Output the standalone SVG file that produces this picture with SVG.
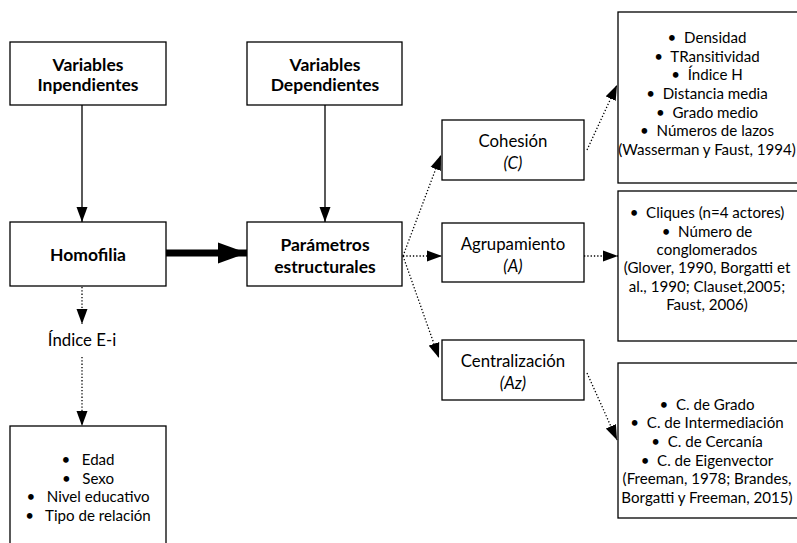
<svg xmlns="http://www.w3.org/2000/svg" width="797" height="543" viewBox="0 0 797 543">
<style>
.box{fill:#fff;stroke:#000;stroke-width:1.3}
text{font-family:Lato,"Liberation Sans",sans-serif;fill:#000;text-anchor:middle}
.h{font-weight:bold;font-size:17.5px}
.t{font-size:16.8px}
.l{font-size:15.1px}
.it{font-style:italic}
.solid{stroke:#000;stroke-width:1.3;fill:none}
.dot{stroke:#000;stroke-width:1.3;fill:none;stroke-dasharray:1.3 2}
</style>
<defs>
<marker id="ah" markerUnits="userSpaceOnUse" markerWidth="16" markerHeight="12" refX="15" refY="6" orient="auto" viewBox="0 0 16 12">
<path d="M0,0.5 L15,6 L0,11.5 z" fill="#000"/>
</marker>
<marker id="ahb" markerUnits="userSpaceOnUse" markerWidth="30" markerHeight="22" refX="29" refY="11" orient="auto" viewBox="0 0 30 22">
<path d="M0,0.5 L29,11 L0,21.5 z" fill="#000"/>
</marker>
</defs>
<g id="connectors">
<line class="solid" x1="82" y1="105" x2="82" y2="222" marker-end="url(#ah)"/>
<line class="solid" x1="325" y1="105" x2="325" y2="222" marker-end="url(#ah)"/>
<line x1="166" y1="253" x2="247" y2="253" stroke="#000" stroke-width="7" marker-end="url(#ahb)"/>
<line class="dot" x1="82" y1="287" x2="82" y2="324" marker-end="url(#ah)"/>
<line class="dot" x1="82" y1="357" x2="82" y2="426" marker-end="url(#ah)"/>
<line class="dot" x1="403" y1="256" x2="441" y2="155" marker-end="url(#ah)"/>
<line class="dot" x1="403" y1="256" x2="442" y2="256" marker-end="url(#ah)"/>
<line class="dot" x1="403" y1="256" x2="439" y2="358" marker-end="url(#ah)"/>
<line class="dot" x1="587" y1="150" x2="617" y2="85" marker-end="url(#ah)"/>
<line class="dot" x1="584" y1="256" x2="618" y2="256" marker-end="url(#ah)"/>
<line class="dot" x1="587" y1="373" x2="617" y2="440" marker-end="url(#ah)"/>
</g>
<g id="vi">
<rect class="box" x="10" y="42" width="156" height="63"/>
<text class="h" x="88" y="71">Variables</text>
<text class="h" x="88" y="91">Inpendientes</text>
</g>
<g id="vd">
<rect class="box" x="247" y="42" width="155" height="63"/>
<text class="h" x="325" y="71">Variables</text>
<text class="h" x="325" y="91">Dependientes</text>
</g>
<g id="homofilia">
<rect class="box" x="10" y="222" width="156" height="64"/>
<text class="h" x="88" y="261">Homofilia</text>
</g>
<g id="parametros">
<rect class="box" x="247" y="222" width="155" height="64"/>
<text class="h" x="325" y="251">Parámetros</text>
<text class="h" x="325" y="273">estructurales</text>
</g>
<g id="indice">
<text class="t" x="82" y="346">Índice E-i</text>
</g>
<g id="atributos">
<rect class="box" x="10" y="426" width="156" height="130"/>
<text class="l" x="88" y="465">•&#160;&#160; Edad</text>
<text class="l" x="88" y="484">•&#160;&#160; Sexo</text>
<text class="l" x="88" y="502">•&#160;&#160; Nivel educativo</text>
<text class="l" x="88" y="521">•&#160;&#160; Tipo de relación</text>
</g>
<g id="cohesion">
<rect class="box" x="442" y="120" width="142" height="60"/>
<text class="t" x="513" y="147">Cohesión</text>
<text class="t it" x="513" y="169">(C)</text>
</g>
<g id="agrupamiento">
<rect class="box" x="442" y="223" width="142" height="59"/>
<text class="t" x="513" y="250">Agrupamiento</text>
<text class="t it" x="513" y="272">(A)</text>
</g>
<g id="centralizacion">
<rect class="box" x="442" y="340" width="142" height="60"/>
<text class="t" x="513" y="367">Centralización</text>
<text class="t it" x="513" y="389">(Az)</text>
</g>
<g id="cohesion-medidas">
<rect class="box" x="618" y="12" width="200" height="171"/>
<text class="l" x="707" y="43">•&#160; Densidad</text>
<text class="l" x="707" y="62">•&#160; TRansitividad</text>
<text class="l" x="707" y="80">•&#160; Índice H</text>
<text class="l" x="707" y="99">•&#160; Distancia media</text>
<text class="l" x="707" y="118">•&#160; Grado medio</text>
<text class="l" x="707" y="136">•&#160; Números de lazos</text>
<text class="l" x="707" y="155">(Wasserman y Faust, 1994)</text>
</g>
<g id="agrupamiento-medidas">
<rect class="box" x="618" y="191" width="200" height="150"/>
<text class="l" x="707" y="218">•&#160; Cliques (n=4 actores)</text>
<text class="l" x="707" y="237">•&#160; Número de</text>
<text class="l" x="707" y="255">conglomerados</text>
<text class="l" x="707" y="273">(Glover, 1990, Borgatti et</text>
<text class="l" x="707" y="292">al., 1990; Clauset,2005;</text>
<text class="l" x="707" y="310">Faust, 2006)</text>
</g>
<g id="centralizacion-medidas">
<rect class="box" x="618" y="363" width="200" height="155"/>
<text class="l" x="707" y="410">•&#160; C. de Grado</text>
<text class="l" x="707" y="428">•&#160; C. de Intermediación</text>
<text class="l" x="707" y="447">•&#160; C. de Cercanía</text>
<text class="l" x="707" y="466">•&#160; C. de Eigenvector</text>
<text class="l" x="707" y="484">(Freeman, 1978; Brandes,</text>
<text class="l" x="707" y="503">Borgatti y Freeman, 2015)</text>
</g>
</svg>
